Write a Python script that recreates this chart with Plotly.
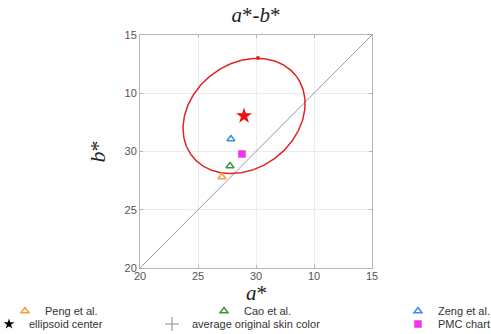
import numpy as np
import plotly.graph_objects as go

# ---- data (plot coordinates, axis runs 0..20 with relabelled ticks) ----
tick_vals = [0, 5, 10, 15, 20]
x_tick_text = ["20", "25", "30", "10", "15"]
y_tick_text = ["20", "25", "30", "10", "15"]

series_names = ["Peng et al.", "Cao et al.", "Zeng et al.", "PMC chart"]
series_x = [7.07, 7.76, 7.84, 8.79]
series_y = [7.81, 8.76, 11.07, 9.79]
series_colors = ["#f0a040", "#3a9a3a", "#3a8ee0", "#ee33ee"]
series_symbols = ["triangle-up-open", "triangle-up-open", "triangle-up-open", "square"]

center_x = [8.97]
center_y = [13.05]
ellipse_a = 5.65
ellipse_b = 4.5
ellipse_angle_deg = 37.0
top_dot_x = [10.17]
top_dot_y = [18.03]

diag_x = [0, 20]
diag_y = [0, 20]

fig = go.Figure()

# diagonal
fig.add_trace(go.Scatter(x=diag_x, y=diag_y, mode="lines",
                         line=dict(color="#9e8db8", width=1), showlegend=False, hoverinfo="skip"))

# ellipse
t = np.linspace(0, 2 * np.pi, 300)
th = np.deg2rad(ellipse_angle_deg)
ex = center_x[0] + ellipse_a * np.cos(t) * np.cos(th) - ellipse_b * np.sin(t) * np.sin(th)
ey = center_y[0] + ellipse_a * np.cos(t) * np.sin(th) + ellipse_b * np.sin(t) * np.cos(th)
fig.add_trace(go.Scatter(x=ex, y=ey, mode="lines", line=dict(color="#e02424", width=1.5),
                         showlegend=False, hoverinfo="skip"))
fig.add_trace(go.Scatter(x=top_dot_x, y=top_dot_y, mode="markers",
                         marker=dict(color="#e02424", size=4), showlegend=False))

# center star (plot)
fig.add_trace(go.Scatter(x=center_x, y=center_y, mode="markers",
                         marker=dict(symbol="star", color="#ee1111", size=12), showlegend=False))

# legend layout: (legend id, symbol centre x px, row centre y px)
legend_pos = {
    "Peng et al.": ("legend", 25, 311),
    "Cao et al.": ("legend2", 224, 311),
    "Zeng et al.": ("legend3", 418, 311),
    "ellipsoid center": ("legend4", 9, 324),
    "average original skin color": ("legend5", 172, 324),
    "PMC chart": ("legend6", 418, 324),
}

for n, x, y, c, s in zip(series_names, series_x, series_y, series_colors, series_symbols):
    fig.add_trace(go.Scatter(x=[x], y=[y], mode="markers", name=n,
                             marker=dict(symbol=s, color=c, size=7 if "triangle" in s else 6,
                                         line=dict(color=c, width=1.5)),
                             legend=legend_pos[n][0]))

# legend-only entries
fig.add_trace(go.Scatter(x=[None], y=[None], mode="markers", name="ellipsoid center",
                         marker=dict(symbol="star", color="black", size=8),
                         legend=legend_pos["ellipsoid center"][0]))
fig.add_trace(go.Scatter(x=[None], y=[None], mode="markers", name="average original skin color",
                         marker=dict(symbol="cross-thin-open", color="#888888", size=10,
                                     line=dict(color="#888888", width=1)),
                         legend=legend_pos["average original skin color"][0]))

W, H = 491, 334
L, R, T, B = 140, 372, 35, 268

def px2paper(px, py):
    return (px - L) / (R - L), (B - py) / (B - T)

legend_layout = {}
for name, (lg, sx, sy) in legend_pos.items():
    xp, yp = px2paper(sx - 20, sy)
    legend_layout[lg] = dict(x=xp, y=yp, xanchor="left", yanchor="middle",
                             bgcolor="rgba(0,0,0,0)", borderwidth=0,
                             font=dict(family="Liberation Sans, Arial", size=11, color="#333333"),
                             itemclick=False, tracegroupgap=0)

axis_common = dict(range=[0, 20], tickvals=tick_vals, showgrid=True, gridcolor="#ececec",
                   gridwidth=1, zeroline=False, showline=True, linecolor="#b5b5b5", linewidth=1,
                   mirror="ticks", ticks="inside", ticklen=3, tickcolor="#b5b5b5",
                   tickfont=dict(family="Liberation Sans, Arial", size=11, color="#555555"))

serif = "Liberation Serif, Times New Roman"
xt_x, xt_y = px2paper(256, 293)

fig.update_layout(
    width=W, height=H,
    margin=dict(l=L, r=W - R, t=T, b=H - B, pad=0, autoexpand=False),
    paper_bgcolor="white", plot_bgcolor="white",
    title=dict(text="<i>a</i>*-<i>b</i>*", x=(L + R) / 2 / W, xanchor="center",
               y=1 - 15 / H, yanchor="middle",
               font=dict(family=serif, size=21, color="#222222")),
    xaxis=dict(**axis_common, ticktext=x_tick_text, ticklabelstandoff=-2),
    yaxis=dict(**axis_common, ticktext=y_tick_text,
               title=dict(text="<i>b</i>*", standoff=12,
                          font=dict(family=serif, size=22, color="#222222"))),
    annotations=[dict(text="<i>a</i>*", xref="paper", yref="paper", x=xt_x, y=xt_y,
                      xanchor="center", yanchor="middle", showarrow=False,
                      font=dict(family=serif, size=21, color="#222222"))],
    showlegend=True,
    **legend_layout,
)

fig.write_html("out.html", config={"displayModeBar": False},
               post_script="document.body.style.margin='0';"
                           "document.body.style.overflow='hidden';")
